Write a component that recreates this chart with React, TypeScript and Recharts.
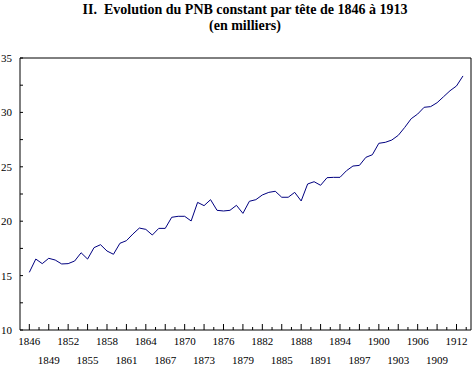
import React from "react";
import { LineChart, Line, XAxis, YAxis, ReferenceLine } from "recharts";

const titleLine1 = "II.  Evolution du PNB constant par tête de 1846 à 1913";
const titleLine2 = "(en milliers)";

const startYear = 1846;
const pnb = [
  15.3, 16.52, 16.1, 16.59, 16.43, 16.07, 16.1, 16.34, 17.1, 16.52,
  17.57, 17.84, 17.26, 16.96, 17.97, 18.21, 18.82, 19.37, 19.25, 18.73,
  19.34, 19.34, 20.36, 20.45, 20.45, 20.02, 21.73, 21.43, 21.98, 21.0,
  20.94, 21.0, 21.46, 20.72, 21.83, 21.98, 22.41, 22.65, 22.75, 22.2,
  22.2, 22.65, 21.86, 23.42, 23.63, 23.3, 24.0, 24.03, 24.03, 24.64,
  25.07, 25.13, 25.87, 26.11, 27.16, 27.25, 27.46, 27.89, 28.62, 29.42,
  29.85, 30.47, 30.53, 30.89, 31.44, 31.99, 32.43, 33.35,
];
const years = pnb.map((_, i) => startYear + i);
const data = years.map((y, i) => ({ year: y, value: pnb[i] }));

const xLabelYears = [1846, 1849, 1852, 1855, 1858, 1861, 1864, 1867, 1870, 1873, 1876, 1879, 1882, 1885, 1888, 1891, 1894, 1897, 1900, 1903, 1906, 1909, 1912];
const xTicks: number[] = [];
for (let t = 1846; t <= 1913.6; t += 1.5) xTicks.push(t);
const yTicks = [10, 12.5, 15, 17.5, 20, 22.5, 25, 27.5, 30, 32.5, 35];
const xDomain = [1844.56, 1914.24];

const FONT = "'Liberation Serif', 'Times New Roman', serif";

const XTick = (props: any) => {
  const { x, y, payload } = props;
  const v = payload.value;
  const idx = xLabelYears.indexOf(Math.round(v * 10) / 10);
  const isMajor = idx >= 0;
  return (
    <g>
      <line x1={x} x2={x} y1={y} y2={y - (isMajor ? 6 : 3)} stroke="#000" strokeWidth={1} />
      {isMajor && (
        <text x={x} y={y + (idx % 2 === 0 ? 15 : 34)} textAnchor="middle" fontFamily={FONT} fontSize={11} fill="#000">
          {v}
        </text>
      )}
    </g>
  );
};

const YTick = (props: any) => {
  const { x, y, payload } = props;
  const v = payload.value;
  const labeled = v % 5 === 0;
  return (
    <g>
      <line x1={x} x2={x + 3} y1={y} y2={y} stroke="#000" strokeWidth={1} />
      {labeled && (
        <text x={x - 8} y={y + 4} textAnchor="end" fontFamily={FONT} fontSize={11} fill="#000">
          {v}
        </text>
      )}
    </g>
  );
};

export default function App() {
  return (
    <div style={{ position: "absolute", left: 0, top: 0, width: 474, height: 367, background: "#fff" }}>
      <svg width={474} height={40} style={{ position: "absolute", left: 0, top: 0 }}>
        <text x={245} y={13.5} textAnchor="middle" fontFamily={FONT} fontWeight="bold" fontSize={14} fill="#000" style={{ whiteSpace: "pre" }}>
          {titleLine1}
        </text>
        <text x={245} y={29.5} textAnchor="middle" fontFamily={FONT} fontWeight="bold" fontSize={14} fill="#000">
          {titleLine2}
        </text>
      </svg>
      <div style={{ position: "absolute", left: 0, top: 0 }}>
        <LineChart width={474} height={367} data={data} margin={{ top: 58, right: 3, left: 0, bottom: 0 }}>
          <XAxis
            dataKey="year"
            type="number"
            domain={xDomain}
            ticks={xTicks}
            interval={0}
            height={37}
            tickLine={false}
            tickSize={0}
            tickMargin={0}
            axisLine={{ stroke: "#000", strokeWidth: 1 }}
            tick={<XTick />}
            allowDataOverflow
          />
          <YAxis
            type="number"
            domain={[10, 35]}
            ticks={yTicks}
            interval={0}
            width={20}
            tickLine={false}
            tickSize={0}
            tickMargin={0}
            axisLine={{ stroke: "#000", strokeWidth: 1 }}
            tick={<YTick />}
            allowDataOverflow
          />
          <ReferenceLine y={35} stroke="#000" strokeWidth={1} ifOverflow="visible" />
          <ReferenceLine x={xDomain[1]} stroke="#000" strokeWidth={1} ifOverflow="visible" />
          <Line
            type="linear"
            dataKey="value"
            stroke="#000080"
            strokeWidth={1}
            dot={false}
            isAnimationActive={false}
          />
        </LineChart>
      </div>
    </div>
  );
}
